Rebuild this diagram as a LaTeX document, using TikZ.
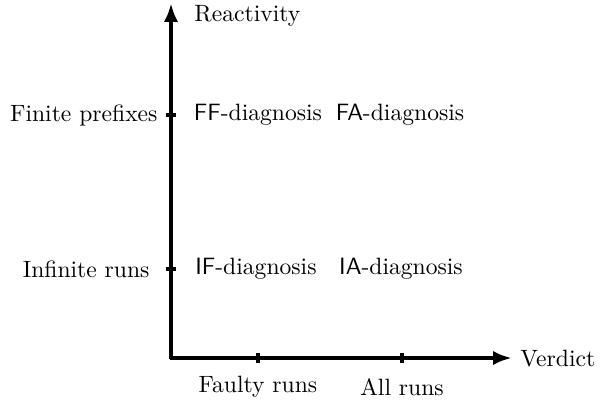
\documentclass[tikz,border=0pt]{standalone}
\usetikzlibrary{arrows.meta}
\begin{document}
\begin{tikzpicture}[x=0.4237pt,y=-0.4237pt,
  axis/.style={line width=1.6pt,-{Latex[length=8pt,width=6pt]}},
  tick/.style={line width=1.6pt},
  lbl/.style={inner sep=0pt}]
\useasboundingbox (0,0) rectangle (601,408);
\coordinate (ytop) at (171,3);
\coordinate (xend) at (512,358);
\draw[axis] (171,359) -- (ytop);
\draw[axis] (170,358) -- (xend);
% ticks
\coordinate (t1a) at (258,353); \coordinate (t1b) at (258,363);
\coordinate (t2a) at (402,353); \coordinate (t2b) at (402,363);
\coordinate (t3a) at (166,115); \coordinate (t3b) at (176,115);
\coordinate (t4a) at (166,269); \coordinate (t4b) at (176,269);
\draw[tick] (t1a) -- (t1b);
\draw[tick] (t2a) -- (t2b);
\draw[tick] (t3a) -- (t3b);
\draw[tick] (t4a) -- (t4b);
% labels
\node[lbl,anchor=west] (react) at (194,16) {Reactivity};
\node[lbl,anchor=west] (verd) at (520,359) {Verdict};
\node[lbl,anchor=east] (fp) at (158,115) {Finite prefixes};
\node[lbl,anchor=east] (ir) at (150,269) {Infinite runs};
\node[lbl] (fr) at (258,387) {Faulty runs};
\node[lbl] (ar) at (402,387) {All runs};
\node[lbl] (ff) at (258,115) {\textsf{FF}-diagnosis};
\node[lbl] (fa) at (400,115) {\textsf{FA}-diagnosis};
\node[lbl] (if) at (256,269) {\textsf{IF}-diagnosis};
\node[lbl] (ia) at (401,269) {\textsf{IA}-diagnosis};
\end{tikzpicture}
\end{document}
